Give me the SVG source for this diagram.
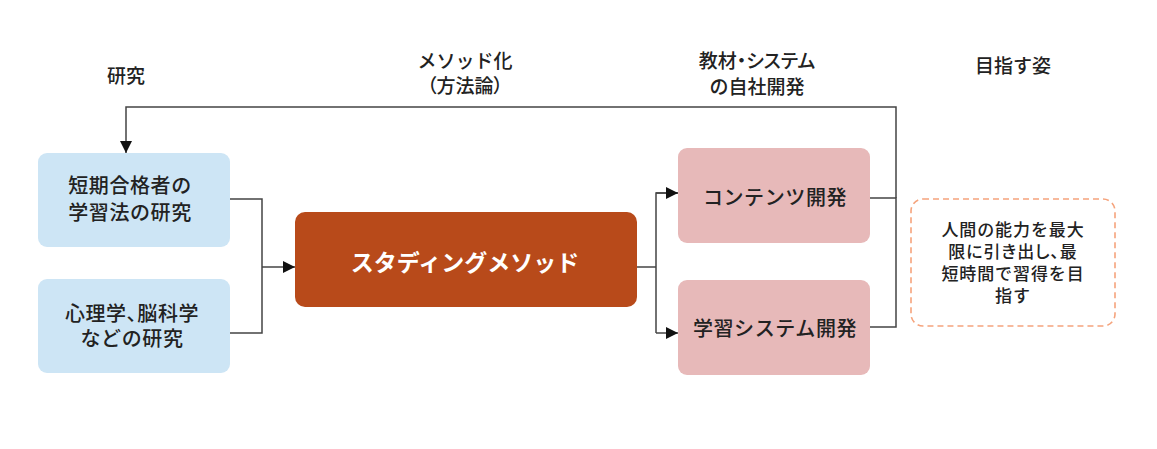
<svg xmlns="http://www.w3.org/2000/svg" width="1157" height="449" viewBox="0 0 1157 449">
  <style>
    text { font-family: "Noto Sans CJK JP", "Noto Sans", sans-serif; fill: #222; text-anchor: middle; dominant-baseline: central; }
    .hdr { font-size: 19px; font-weight: 500; }
    .lbl { font-size: 20px; font-weight: 500; letter-spacing: 0.6px; }
    .main { font-size: 23px; font-weight: 700; fill: #ffffff; }
    .goal { font-size: 17px; font-weight: 500; letter-spacing: 0.9px; }
    .prop { font-feature-settings: "palt"; }
    .blue { fill: #CDE5F5; }
    .pink { fill: #E7B9B9; }
    .conn { fill: none; stroke: #444; stroke-width: 1.5; }
  </style>
  <defs>
    <marker id="arr" viewBox="0 0 12 12" refX="12" refY="6" markerWidth="12" markerHeight="12" markerUnits="userSpaceOnUse" orient="auto">
      <path d="M0,0 L12,6 L0,12 z" fill="#111"/>
    </marker>
  </defs>
  <rect width="1157" height="449" fill="#ffffff"/>

  <g id="headers">
    <text class="hdr" x="126" y="74">研究</text>
    <text class="hdr" x="465" y="59">メソッド化</text>
    <text class="hdr prop" x="465" y="84">（方法論）</text>
    <text class="hdr prop" x="757" y="59">教材・システム</text>
    <text class="hdr" x="757" y="85">の自社開発</text>
    <text class="hdr" x="1013" y="64">目指す姿</text>
  </g>

  <g id="connectors">
    <path class="conn" d="M896,198 V107 H126 V153" marker-end="url(#arr)"/>
    <path class="conn" d="M870,198 H896 V327 H870"/>
    <path class="conn" d="M230,199 H262 V333 H230"/>
    <path class="conn" d="M262,267 H295" marker-end="url(#arr)"/>
    <path class="conn" d="M636,267 H656"/>
    <path class="conn" d="M678,193 H656 V333"/>
    <path class="conn" d="M656,193 H678" marker-end="url(#arr)"/>
    <path class="conn" d="M656,333 H678" marker-end="url(#arr)"/>
  </g>

  <g id="node-short">
    <rect class="blue" x="38" y="153" width="192" height="94" rx="9"/>
    <text class="lbl" x="130" y="184">短期合格者の</text>
    <text class="lbl" x="130" y="211">学習法の研究</text>
  </g>

  <g id="node-psych">
    <rect class="blue" x="38" y="279" width="192" height="94" rx="9"/>
    <text class="lbl prop" x="132" y="312">心理学、脳科学</text>
    <text class="lbl" x="132" y="337">などの研究</text>
  </g>

  <g id="node-method">
    <rect x="295" y="212" width="342" height="95" rx="10" fill="#B84A1A"/>
    <text class="main" x="465" y="261">スタディングメソッド</text>
  </g>

  <g id="node-content">
    <rect class="pink" x="678" y="148" width="192" height="95" rx="9"/>
    <text class="lbl" x="775" y="196">コンテンツ開発</text>
  </g>

  <g id="node-system">
    <rect class="pink" x="678" y="280" width="192" height="95" rx="9"/>
    <text class="lbl" x="775" y="327">学習システム開発</text>
  </g>

  <g id="node-goal">
    <rect x="911" y="199" width="204" height="127" rx="12" fill="none" stroke="#F5A37C" stroke-width="1.6" stroke-dasharray="6 4"/>
    <text class="goal" x="1013" y="228">人間の能力を最大</text>
    <text class="goal prop" x="1013" y="250">限に引き出し、最</text>
    <text class="goal" x="1013" y="272">短時間で習得を目</text>
    <text class="goal" x="1013" y="294">指す</text>
  </g>
</svg>
